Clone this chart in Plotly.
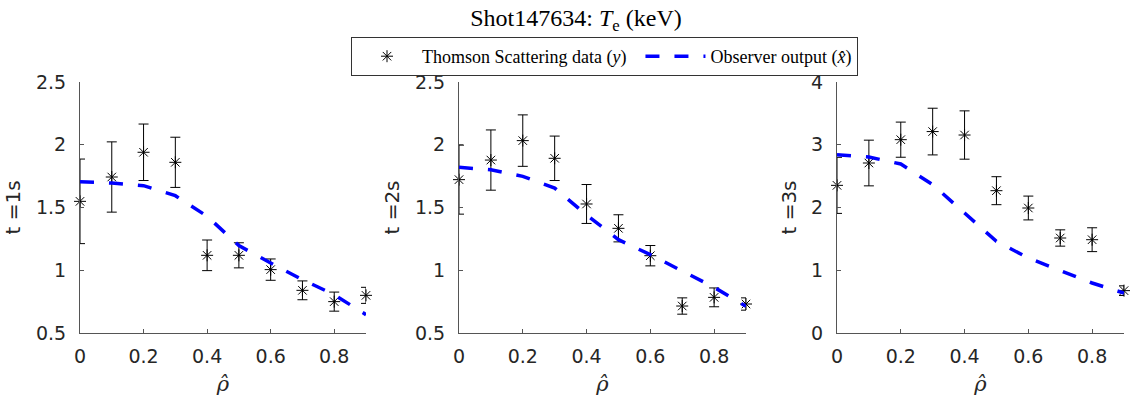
import plotly.graph_objects as go

rho = [0.0, 0.1, 0.2, 0.3, 0.4, 0.5, 0.6, 0.7, 0.8, 0.9]

ts1_y = [1.549, 1.743, 1.94, 1.86, 1.119, 1.119, 1.005, 0.84, 0.75, 0.80]
ts1_err = [0.337, 0.28, 0.225, 0.2, 0.122, 0.10, 0.085, 0.075, 0.076, 0.064]
obs1 = [1.706, 1.695, 1.674, 1.594, 1.43, 1.196, 1.058, 0.925, 0.805, 0.646]

ts2_y = [1.722, 1.878, 2.033, 1.892, 1.528, 1.334, 1.116, 0.715, 0.784, 0.731]
ts2_err = [0.275, 0.24, 0.205, 0.177, 0.155, 0.108, 0.081, 0.065, 0.075, 0.049]
obs2 = [1.82, 1.80, 1.748, 1.655, 1.44, 1.244, 1.124, 0.991, 0.864, 0.713]

ts3_y = [2.353, 2.709, 3.081, 3.21, 3.155, 2.268, 1.992, 1.514, 1.487, 0.675]
ts3_err = [0.447, 0.364, 0.28, 0.372, 0.385, 0.223, 0.19, 0.13, 0.19, 0.077]
obs3 = [2.842, 2.805, 2.693, 2.364, 1.912, 1.461, 1.195, 0.993, 0.797, 0.637]

panel_titles = ["t =1s", "t =2s", "t =3s"]
y_ranges = [[0.5, 2.5], [0.5, 2.5], [0, 4]]
y_ticks = [[0.5, 1, 1.5, 2, 2.5], [0.5, 1, 1.5, 2, 2.5], [0, 1, 2, 3, 4]]
x_ticks = [0, 0.2, 0.4, 0.6, 0.8]
x_ticktext = ["0", "0.2", "0.4", "0.6", "0.8"]

W, H = 1130, 401
x_dom_px = [(80, 366), (459, 746), (837, 1124)]
y_dom_px = (82, 333)

fig = go.Figure()
data_sets = [(ts1_y, ts1_err, obs1), (ts2_y, ts2_err, obs2), (ts3_y, ts3_err, obs3)]
for i, (yv, ev, ov) in enumerate(data_sets):
    sfx = "" if i == 0 else str(i + 1)
    fig.add_trace(go.Scatter(
        x=rho, y=yv, mode="markers",
        name="Thomson Scattering data (<i>y</i>)\u00a0\u00a0",
        marker=dict(symbol="asterisk-open", size=10, color="black",
                    line=dict(width=1, color="black")),
        error_y=dict(type="data", array=ev, visible=True, color="black",
                     thickness=1, width=5),
        xaxis="x" + sfx, yaxis="y" + sfx, showlegend=(i == 0), cliponaxis=False))
    fig.add_trace(go.Scatter(
        x=rho, y=ov, mode="lines", name="Observer output (<i>x̂</i>)",
        line=dict(color="#0000ff", width=3.5, dash="14px,15px"),
        xaxis="x" + sfx, yaxis="y" + sfx, showlegend=(i == 0)))

axis_common = dict(showline=True, linecolor="#555555", linewidth=1, ticks="inside",
                   ticklen=4, tickcolor="#555555", showgrid=False, zeroline=False,
                   mirror=False, automargin=False,
                   tickfont=dict(family="DejaVu Sans", size=19, color="#262626"))
layout = {}
for i in range(3):
    sfx = "" if i == 0 else str(i + 1)
    x0, x1 = x_dom_px[i]
    layout["xaxis" + sfx] = dict(
        axis_common, domain=[x0 / W, x1 / W], range=[0, 0.9], tickvals=x_ticks,
        ticktext=x_ticktext, anchor="y" + sfx, ticklabelstandoff=6,
        title=dict(text="<i>ρ̂</i>", font=dict(family="DejaVu Serif", size=21, color="#262626"),
                   standoff=10))
    layout["yaxis" + sfx] = dict(
        axis_common, domain=[(H - y_dom_px[1]) / H, (H - y_dom_px[0]) / H],
        range=y_ranges[i], tickvals=y_ticks[i], anchor="x" + sfx, ticklabelstandoff=9,
        title=dict(text=panel_titles[i], font=dict(family="DejaVu Sans", size=20, color="#262626"),
                   standoff=9))

fig.update_layout(
    **layout,
    width=W, height=H,
    margin=dict(l=0, r=0, t=0, b=0, autoexpand=False),
    paper_bgcolor="white", plot_bgcolor="white",
    title=dict(text="Shot147634: <i>T</i><sub>e</sub> (keV)", x=576 / W, xanchor="center",
               y=1 - 18 / H, yanchor="middle",
               font=dict(family="Liberation Serif", size=24, color="black")),
    legend=dict(orientation="h", x=351 / W, xanchor="left", y=1 - 37 / H, yanchor="top",
                bgcolor="white", bordercolor="#333333", borderwidth=1,
                font=dict(family="Liberation Serif", size=18, color="black"),
                itemwidth=60),
)

fig.write_html("out.html")
